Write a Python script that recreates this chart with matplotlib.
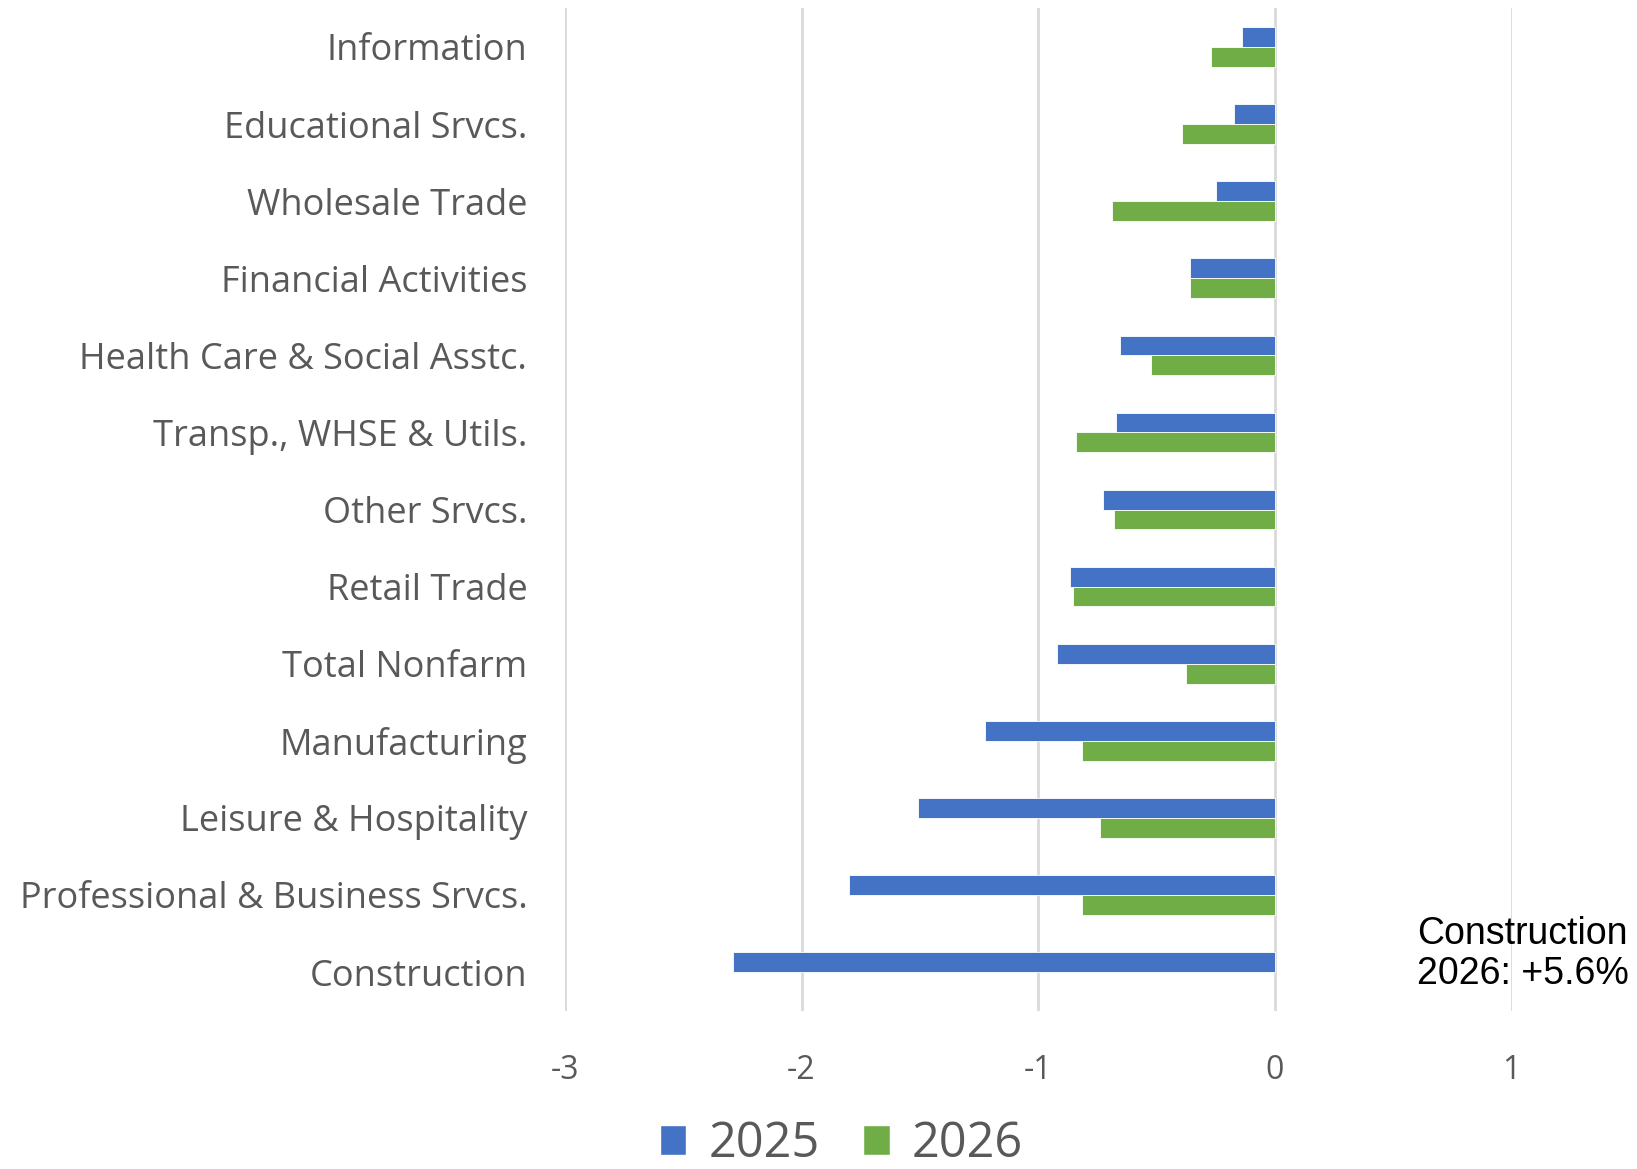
import numpy as np
import matplotlib.pyplot as plt
from matplotlib.patches import Patch

# sectors, top to bottom as drawn
sectors = ["Information", "Educational Srvcs.", "Wholesale Trade", "Financial Activities",
           "Health Care & Social Asstc.", "Transp., WHSE & Utils.", "Other Srvcs.",
           "Retail Trade", "Total Nonfarm", "Manufacturing", "Leisure & Hospitality",
           "Professional & Business Srvcs.", "Construction"]
# percent change
vals_2025 = [-0.14, -0.175, -0.25, -0.36, -0.655, -0.67, -0.725,
             -0.865, -0.92, -1.225, -1.51, -1.80, -2.29]
vals_2026 = [-0.27, -0.395, -0.69, -0.36, -0.525, -0.84, -0.68,
             -0.855, -0.375, -0.815, -0.74, -0.815, np.nan]  # construction +5.6, off scale
note = "Construction\n2026: +5.6%"

blue = "#4472C4"
green = "#70AD47"
grey = "#595959"

fig = plt.figure(figsize=(16.37, 11.69), dpi=100)
ax = fig.add_axes([0.345, 0.1355, 0.5785, 0.8573])

y = np.arange(len(sectors))
h = 0.257
ax.barh(y - h/2, vals_2025, height=h, color=blue, edgecolor="white", linewidth=0.6, zorder=3)
ax.barh(y + h/2, vals_2026, height=h, color=green, edgecolor="white", linewidth=0.6, zorder=3)

ax.set_xlim(-3, 1)
ax.set_ylim(len(sectors) - 0.5, -0.5)
ax.set_xticks([-3, -2, -1, 0, 1])
ax.set_xticklabels(["-3", "-2", "-1", "0", "1"])
ax.set_yticks(y)
ax.set_yticklabels(sectors)
ax.xaxis.grid(True, color="#D9D9D9", linewidth=2, zorder=0)
ax.set_axisbelow(True)
for s in ax.spines.values():
    s.set_visible(False)
ax.tick_params(axis="both", length=0, colors=grey, labelsize=23)
ax.tick_params(axis="y", labelsize=26, pad=27)
ax.tick_params(axis="x", pad=31)
for lab in ax.get_xticklabels() + ax.get_yticklabels():
    lab.set_family("Open Sans")

fig.text(0.8655, 0.216, note, fontsize=27, family="Liberation Sans", color="black",
         ha="left", va="top", linespacing=1.12)

handles = [Patch(facecolor=blue, edgecolor="white"), Patch(facecolor=green, edgecolor="white")]
leg = fig.legend(handles, ["2025", "2026"], loc="center", bbox_to_anchor=(0.514, 0.021),
                 ncol=2, frameon=False, handlelength=0.55, handleheight=0.55,
                 handletextpad=0.45, columnspacing=0.9, borderpad=0.2,
                 prop={"family": "Open Sans", "size": 35})
for t in leg.get_texts():
    t.set_color(grey)

fig.savefig("out.png", dpi=100)
